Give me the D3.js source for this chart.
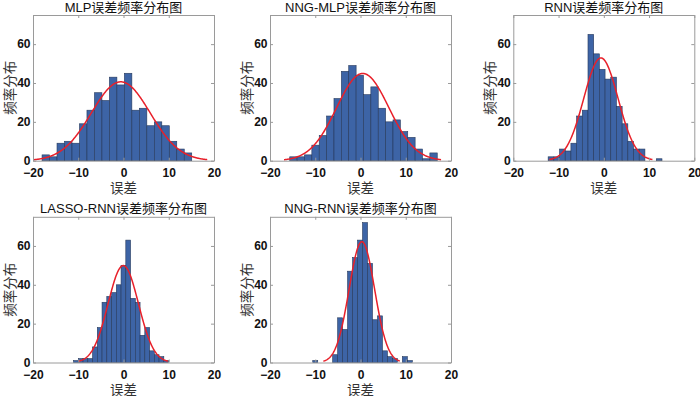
<!DOCTYPE html>
<html>
<head>
<meta charset="utf-8">
<script src="https://cdn.jsdelivr.net/npm/d3@7"></script>
<style>
  body { margin: 0; background: #fff; }
</style>
</head>
<body>
<script>
// histogram counts (20 bins per panel)
const titles = ["MLP误差频率分布图", "NNG-MLP误差频率分布图", "RNN误差频率分布图", "LASSO-RNN误差频率分布图", "NNG-RNN误差频率分布图"];
const mlpCounts = [3, 2, 9, 10, 9, 19, 26, 35, 31, 43, 39, 45, 26, 27, 18, 20, 18, 10, 6, 4];
const nngMlpCounts = [2, 2, 3, 8, 13, 23, 32, 46, 49, 44, 34, 38, 27, 20, 21, 15, 12, 6, 1, 4];
const rnnCounts = [2, 2, 6, 5, 9, 23, 26, 65, 55, 47, 42, 43, 28, 19, 10, 6, 6, 0, 0, 1];
const lassoRnnCounts = [1, 2, 2, 2, 8, 18, 31, 34, 36, 40, 50, 63, 33, 31, 14, 18, 6, 4, 3, 1];
const nngRnnCounts = [1, 0, 0, 0, 4, 23, 17, 47, 54, 63, 72, 51, 22, 24, 6, 3, 2, 0, 3, 1];
// first bin edge and bin width per panel
const binStart = [-18.0, -15.64, -12.3, -11.04, -10.55];
const binWidth = [1.654, 1.63, 1.258, 1.05, 1.1];
// fitted normal curves: mean, std, peak height, drawn range
const fitMu = [-0.6, 0.5, -0.64, -0.05, 0.3];
const fitSigma = [6.49, 5.79, 3.79, 3.36, 2.82];
const fitPeak = [40.6, 44.9, 52.9, 49.9, 62.2];
const fitFrom = [-20, -16.9, -12.05, -9.9, -8.2];
const fitTo = [18.5, 17.8, 10.8, 9.8, 8.7];

const xTicks = [-20, -10, 0, 10, 20];
const yTicks = [0, 20, 40, 60];
const xLabel = "误差";
const yLabel = "频率分布";

const allCounts = [mlpCounts, nngMlpCounts, rnnCounts, lassoRnnCounts, nngRnnCounts];

// layout
const cols = [33, 270, 513.3];
const rows = [15, 216.8];
const pw = 181, ph = 145.7;
const boxColor = "#9a9a9a";

const svg = d3.select("body").append("svg")
    .attr("width", 700)
    .attr("height", 396)
    .style("font-family", "'Liberation Sans', Arial, 'Noto Sans CJK SC', sans-serif");

allCounts.forEach((counts, i) => {
    const g = svg.append("g")
        .attr("transform", `translate(${cols[i % 3]},${rows[Math.floor(i / 3)]})`);

    const x = d3.scaleLinear().domain([-20, 20]).range([0, pw]);
    const y = d3.scaleLinear().domain([0, 75]).range([ph, 0]);

    // bars
    g.selectAll("rect.bar")
        .data(counts.map((c, k) => ({ x0: binStart[i] + k * binWidth[i], c: c })).filter(d => d.c > 0))
        .join("rect")
        .attr("class", "bar")
        .attr("x", d => x(d.x0))
        .attr("width", d => x(d.x0 + binWidth[i]) - x(d.x0))
        .attr("y", d => y(d.c))
        .attr("height", d => y(0) - y(d.c))
        .attr("fill", "#3d64a6")
        .attr("stroke", "#26395c")
        .attr("stroke-width", 0.6);

    // fitted curve
    const pts = d3.range(fitFrom[i], fitTo[i] + 0.001, 0.1).map(v =>
        [v, fitPeak[i] * Math.exp(-Math.pow(v - fitMu[i], 2) / (2 * fitSigma[i] * fitSigma[i]))]);
    g.append("path")
        .datum(pts)
        .attr("fill", "none")
        .attr("stroke", "#e8202a")
        .attr("stroke-width", 1.5)
        .attr("d", d3.line().x(d => x(d[0])).y(d => y(d[1])));

    // axes, ticks pointing inward like matlab
    const bottom = g.append("g")
        .attr("transform", `translate(0,${ph})`)
        .call(d3.axisBottom(x).tickValues(xTicks).tickSize(-3).tickSizeOuter(0).tickPadding(8));
    const left = g.append("g")
        .call(d3.axisLeft(y).tickValues(yTicks).tickSize(-3).tickSizeOuter(0).tickPadding(2.5));
    g.append("g")
        .call(d3.axisTop(x).tickValues(xTicks).tickSize(-3).tickSizeOuter(0).tickFormat(""));
    g.append("g")
        .attr("transform", `translate(${pw},0)`)
        .call(d3.axisRight(y).tickValues(yTicks).tickSize(-3).tickSizeOuter(0).tickFormat(""));

    g.selectAll(".domain, .tick line").attr("stroke", boxColor);
    [bottom, left].forEach(a => a.selectAll("text")
        .attr("font-size", 12)
        .attr("font-weight", "bold")
        .attr("fill", "#111")
        .style("font-family", "'Liberation Sans', Arial, sans-serif"));

    // title and labels
    g.append("text")
        .attr("x", pw / 2)
        .attr("y", -3.5)
        .attr("text-anchor", "middle")
        .attr("font-size", 13)
        .attr("fill", "#111")
        .text(titles[i]);

    g.append("text")
        .attr("x", pw / 2)
        .attr("y", ph + 32.5)
        .attr("text-anchor", "middle")
        .attr("font-size", 13.5)
        .attr("fill", "#333")
        .style("font-family", "'Noto Sans CJK SC', sans-serif")
        .text(xLabel);

    g.append("text")
        .attr("transform", `translate(-18.5,${ph / 2}) rotate(-90)`)
        .attr("text-anchor", "middle")
        .attr("font-size", 13.5)
        .attr("fill", "#333")
        .style("font-family", "'Noto Sans CJK SC', sans-serif")
        .text(yLabel);
});
</script>
</body>
</html>
